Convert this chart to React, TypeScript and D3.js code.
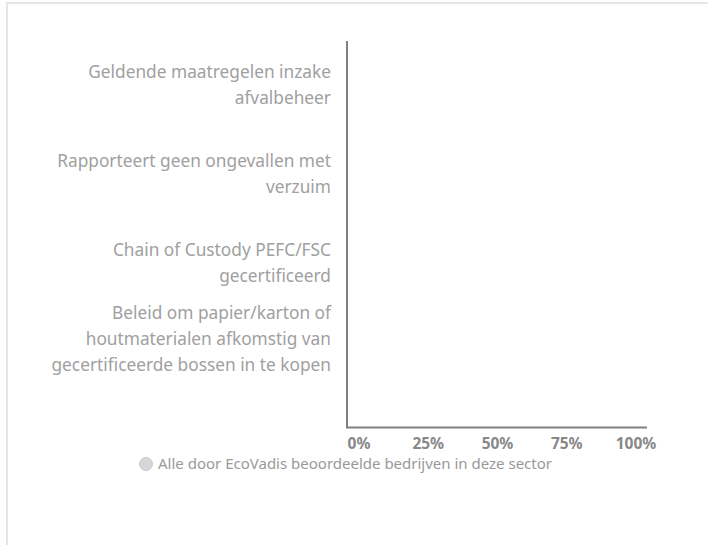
import React from "react";
import * as d3 from "d3";

const categoryLines: string[][] = [
  ["Geldende maatregelen inzake", "afvalbeheer"],
  ["Rapporteert geen ongevallen met", "verzuim"],
  ["Chain of Custody PEFC/FSC", "gecertificeerd"],
  ["Beleid om papier/karton of", "houtmaterialen afkomstig van", "gecertificeerde bossen in te kopen"],
];
const categories = categoryLines.map((l) => l.join(" "));
const sectorValues = [0, 0, 0, 0];
const xTicks = [0, 25, 50, 75, 100];
const tickLabels = ["0%", "25%", "50%", "75%", "100%"];
const seriesName = "Alle door EcoVadis beoordeelde bedrijven in deze sector";

const W = 708;
const H = 545;
const FONT = "'Noto Sans', 'Open Sans', sans-serif";

export default function App() {
  const x = d3.scaleLinear().domain([0, 100]).range([347, 647]);
  const xLabel = d3.scaleLinear().domain([0, 100]).range([359, 636]);
  // vertical anchor of each category (position of the label's last line)
  const y = d3.scalePoint<string>().domain(categories).range([98, 365]);
  const lineH = 26;
  const barH = 30;

  return (
    <svg
      width={W}
      height={H}
      style={{ position: "absolute", left: 0, top: 0, background: "#fff", fontFamily: FONT }}
    >
      <rect x={7} y={3} width={W + 20} height={H + 20} fill="#fff" stroke="#e6e6e6" strokeWidth={2} />

      {categories.map((c, i) => (
        <rect
          key={"bar" + c}
          x={x(0)}
          y={y(c)! - 13 - barH / 2}
          width={Math.max(0, x(sectorValues[i]) - x(0))}
          height={barH}
          fill="#cccccc"
        />
      ))}

      {categoryLines.map((lines, i) => {
        const last = y(categories[i])!;
        return (
          <text key={"cat" + i} textAnchor="end" fill="#a0a0a0" fontSize={17.3}>
            {lines.map((ln, j) => (
              <tspan key={j} x={331} y={last - (lines.length - 1 - j) * lineH} dy="0.35em">
                {ln}
              </tspan>
            ))}
          </text>
        );
      })}

      <line x1={x(0)} x2={x(0)} y1={41} y2={428} stroke="#808080" strokeWidth={2} />
      <line x1={x(0) - 1} x2={x(100)} y1={427.5} y2={427.5} stroke="#808080" strokeWidth={2} />

      {xTicks.map((t, i) => (
        <text
          key={"t" + t}
          x={xLabel(t)}
          y={444}
          dy="0.35em"
          textAnchor="middle"
          fontSize={15.5}
          fontWeight="bold"
          fill="#888888"
        >
          {tickLabels[i]}
        </text>
      ))}

      <g>
        <circle cx={146} cy={464} r={6.5} fill="#d6d6d6" stroke="#cccccc" />
        <text x={158} y={464} dy="0.35em" fontSize={15} fill="#999999">
          {seriesName}
        </text>
      </g>
    </svg>
  );
}
